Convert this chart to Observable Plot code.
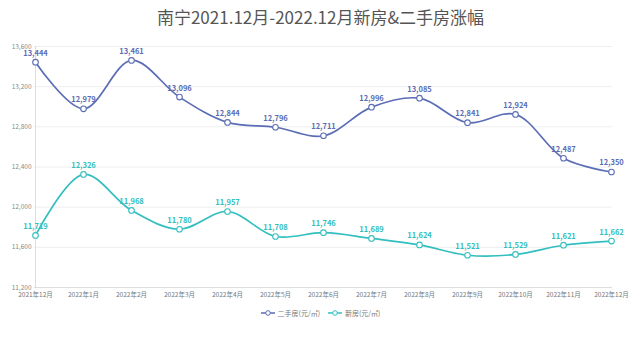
<!DOCTYPE html>
<html><head><meta charset="utf-8">
<script src="https://cdn.jsdelivr.net/npm/d3@7"></script>
<script src="https://cdn.jsdelivr.net/npm/@observablehq/plot@0.6"></script>
<style>
body{margin:0;background:#fff;font-family:"Noto Sans CJK SC","Noto Sans",sans-serif;}
#title{height:34px;line-height:34px;text-align:center;font-size:17px;color:#555;}
#legend{height:14px;display:flex;justify-content:center;align-items:center;gap:8px;font-size:7px;color:#777;}
#legend span{display:inline-flex;align-items:center;gap:3px;}
</style></head>
<body>
<div id="title">南宁2021.12月-2022.12月新房&amp;二手房涨幅</div>
<div id="chart"></div>
<div id="legend"></div>
<script>
const months = ["2021年12月","2022年1月","2022年2月","2022年3月","2022年4月","2022年5月","2022年6月","2022年7月","2022年8月","2022年9月","2022年10月","2022年11月","2022年12月"];
const secondHand = [13444,12979,13461,13096,12844,12796,12711,12996,13085,12841,12924,12487,12350];
const newHouse = [11719,12326,11968,11780,11957,11708,11746,11689,11624,11521,11529,11621,11662];
const seriesNames = ["二手房(元/㎡)","新房(元/㎡)"];
const colors = ["#5b6db5","#33bfc0"];
const yTicks = [11200,11600,12000,12400,12800,13200,13600];

const data = [];
months.forEach((m,i)=>{
  data.push({month:m, value:secondHand[i], series:seriesNames[0]});
  data.push({month:m, value:newHouse[i], series:seriesNames[1]});
});
const fmt = d3.format(",");
const chart = Plot.plot({
  width:641, height:272,
  marginLeft:34, marginRight:29, marginTop:12, marginBottom:19,
  style:{fontFamily:'"Noto Sans CJK SC","Noto Sans",sans-serif', background:"#fff"},
  x:{type:"point", domain:months, padding:0, label:null},
  y:{domain:[11200,13600], ticks:yTicks, label:null, tickFormat:fmt},
  color:{domain:seriesNames, range:colors},
  marks:[
    Plot.gridY(yTicks,{stroke:"#eee", strokeOpacity:1}),
    Plot.ruleX([months[0]],{stroke:"#ddd"}),
    Plot.ruleY([11200],{stroke:"#ddd"}),
    Plot.axisY({ticks:yTicks, tickFormat:fmt, tickSize:0, tickPadding:3, fontSize:6.5, fill:"#888", label:null}),
    Plot.axisX({tickSize:0, tickPadding:5, fontSize:6.5, fill:"#777", label:null}),
    Plot.line(data,{x:"month", y:"value", z:"series", stroke:"series", strokeWidth:1.7, curve:"catmull-rom"}),
    Plot.dot(data,{x:"month", y:"value", stroke:"series", fill:"#fff", r:2.8, strokeWidth:1.1}),
    Plot.text(data,{x:"month", y:"value", text:d=>fmt(d.value), fill:"series", dy:-9, fontSize:7.5, fontWeight:600})
  ]
});
document.getElementById("chart").appendChild(chart);
const lg = document.getElementById("legend");
seriesNames.forEach((n,i)=>{
  const s=document.createElement("span");
  s.innerHTML=`<svg width="14" height="8"><line x1="0" y1="4" x2="14" y2="4" stroke="${colors[i]}" stroke-width="1.5"/><circle cx="7" cy="4" r="2.3" fill="#fff" stroke="${colors[i]}" stroke-width="1"/></svg>${n}`;
  lg.appendChild(s);
});
</script>
</body></html>
